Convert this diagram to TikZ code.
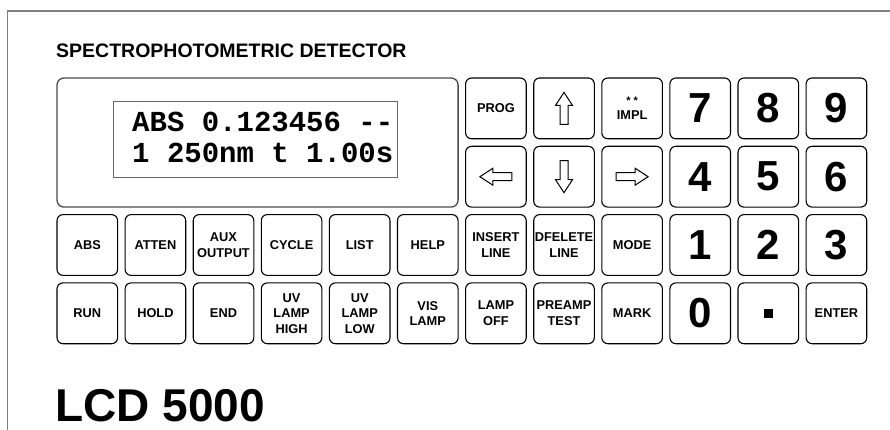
\documentclass[tikz,border=0pt]{standalone}
\usepackage{fontspec}
\setmainfont{Liberation Sans}
\setmonofont{Liberation Mono}
\usetikzlibrary{positioning}

\begin{document}
\begin{tikzpicture}[x=1pt, y=-1pt, node distance=7.5pt,
  keynode/.style={draw=black, line width=1.1pt, rounded corners=6pt, minimum width=60.6pt, minimum height=60.8pt, inner sep=0pt, outer sep=0pt, align=center, font=\fontsize{12.8}{15.5}\selectfont\bfseries},
  numnode/.style={keynode, font=\fontsize{42}{42}\selectfont\bfseries},
  arrowline/.style={line width=1pt, line join=miter}]

\useasboundingbox (0,0) rectangle (890,430);

%Frame
\draw[black!50, line width=1.5pt] (7.5,430) -- (7.5,11) -- (890,11);

%Title
\node[anchor=base west, inner sep=0pt, font=\fontsize{19.5}{20}\selectfont\bfseries] (title) at (56,58) {SPECTROPHOTOMETRIC DETECTOR};

%Display
\node[draw=black!70, line width=1.3pt, rounded corners=7pt, minimum width=401.1pt, minimum height=129.1pt, outer sep=0pt, anchor=north west] (display) at (57,78) {};
\node[draw=black!60, line width=0.8pt, minimum width=284pt, minimum height=76pt, inner sep=0pt, outer sep=0pt, anchor=north west] (lcd) at (113,101) {};
\node[anchor=base west, inner sep=0pt, font=\ttfamily\bfseries\fontsize{29}{31}\selectfont] (lcdtop) at (132,132) {ABS 0.123456 --};
\node[anchor=base west, inner sep=0pt, font=\ttfamily\bfseries\fontsize{29}{31}\selectfont] (lcdbottom) at (132,163) {1 250nm t 1.00s};

%Keys, upper right
\node[keynode, anchor=north west] (prog) at (465.6,78) {PROG};
\node[keynode] (up) [right=of prog] {};
\node[keynode] (impl) [right=of up] {{\fontsize{11}{11}\selectfont * *}\\[-1pt]IMPL};
\node[numnode] (seven) [right=of impl] {7};
\node[numnode] (eight) [right=of seven] {8};
\node[numnode] (nine) [right=of eight] {9};

\node[keynode] (left) [below=of prog] {};
\node[keynode] (down) [right=of left] {};
\node[keynode] (right) [right=of down] {};
\node[numnode] (four) [right=of right] {4};
\node[numnode] (five) [right=of four] {5};
\node[numnode] (six) [right=of five] {6};

%Keys, third row
\node[keynode, anchor=north west] (abs) at (57,214.6) {ABS};
\node[keynode] (atten) [right=of abs] {ATTEN};
\node[keynode] (aux) [right=of atten] {AUX\\OUTPUT};
\node[keynode] (cycle) [right=of aux] {CYCLE};
\node[keynode] (list) [right=of cycle] {LIST};
\node[keynode] (help) [right=of list] {HELP};
\node[keynode] (insert) [right=of help] {INSERT\\LINE};
\node[keynode] (delete) [right=of insert] {DFELETE\\LINE};
\node[keynode] (mode) [right=of delete] {MODE};
\node[numnode] (one) [right=of mode] {1};
\node[numnode] (two) [right=of one] {2};
\node[numnode] (three) [right=of two] {3};

%Keys, fourth row
\node[keynode] (run) [below=of abs] {RUN};
\node[keynode] (hold) [right=of run] {HOLD};
\node[keynode] (end) [right=of hold] {END};
\node[keynode] (uvhigh) [right=of end] {UV\\LAMP\\HIGH};
\node[keynode] (uvlow) [right=of uvhigh] {UV\\LAMP\\LOW};
\node[keynode] (vis) [right=of uvlow] {VIS\\LAMP};
\node[keynode] (lampoff) [right=of vis] {LAMP\\OFF};
\node[keynode] (preamp) [right=of lampoff] {PREAMP\\TEST};
\node[keynode] (mark) [right=of preamp] {MARK};
\node[numnode] (zero) [right=of mark] {0};
\node[keynode] (dot) [right=of zero] {};
\node[keynode] (enter) [right=of dot] {ENTER};

%Arrows and dot
\draw[arrowline, shift={(up.center)}] (0,-16) -- (8.5,-3) -- (4,-3) -- (4,16) -- (-4,16) -- (-4,-3) -- (-8.5,-3) -- cycle;
\draw[arrowline, shift={(down.center)}, rotate=180] (0,-16) -- (8.5,-3) -- (4,-3) -- (4,16) -- (-4,16) -- (-4,-3) -- (-8.5,-3) -- cycle;
\draw[arrowline, shift={(left.center)}, rotate=90] (0,-16) -- (8.5,-3) -- (4,-3) -- (4,16) -- (-4,16) -- (-4,-3) -- (-8.5,-3) -- cycle;
\draw[arrowline, shift={(right.center)}, rotate=-90] (0,-16) -- (8.5,-3) -- (4,-3) -- (4,16) -- (-4,16) -- (-4,-3) -- (-8.5,-3) -- cycle;
\fill[shift={(dot.center)}] (-4.5,-4.5) rectangle (4.5,4.5);

%Model
\node[anchor=base west, inner sep=0pt, font=\fontsize{46}{46}\selectfont\bfseries] (model) at (55,421) {LCD 5000};

\end{tikzpicture}
\end{document}
